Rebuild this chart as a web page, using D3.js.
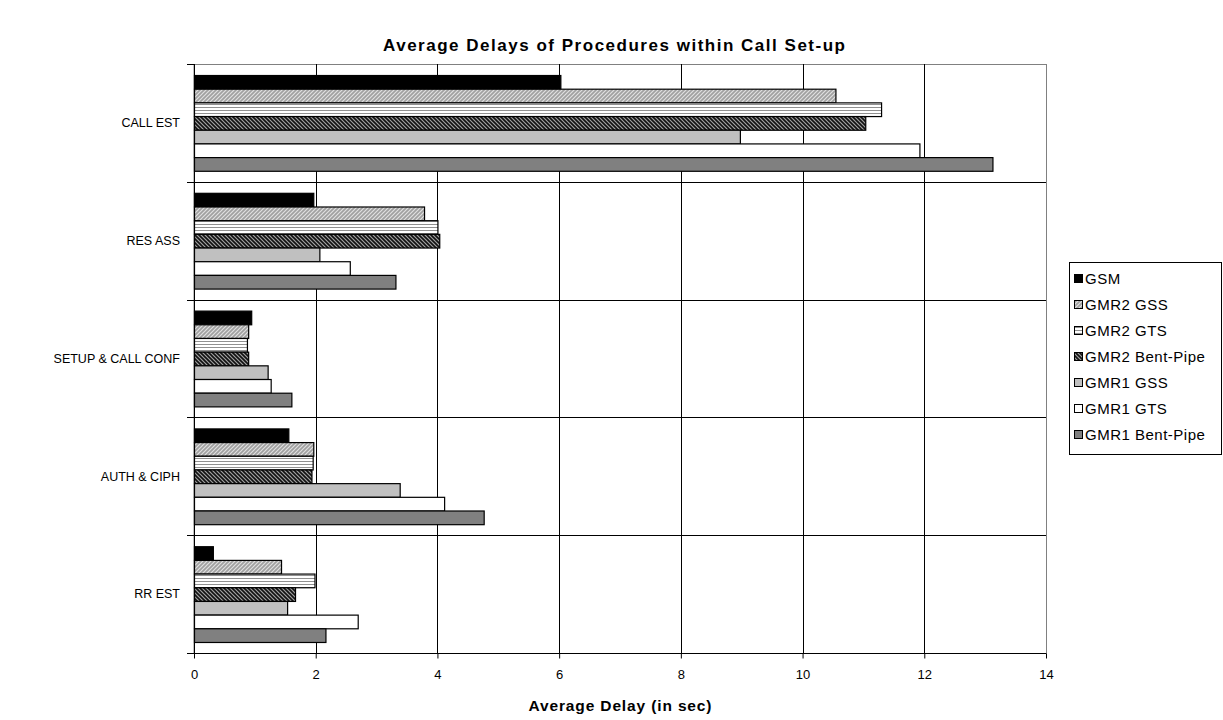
<!DOCTYPE html>
<html><head><meta charset="utf-8">
<script src="https://cdn.jsdelivr.net/npm/d3@7/dist/d3.min.js"></script>
<style>
body{margin:0;background:#fff;}
text{font-family:"Liberation Sans",Arial,sans-serif;}
</style></head>
<body><svg id="c" width="1223" height="720"></svg>
<script>
const categories = ["CALL EST","RES ASS","SETUP & CALL CONF","AUTH & CIPH","RR EST"];
const seriesNames = ["GSM","GMR2 GSS","GMR2 GTS","GMR2 Bent-Pipe","GMR1 GSS","GMR1 GTS","GMR1 Bent-Pipe"];
const gsm        = [6.02, 1.96, 0.94, 1.55, 0.31];
const gmr2Gss    = [10.54, 3.78, 0.89, 1.96, 1.43];
const gmr2Gts    = [11.29, 4.00, 0.87, 1.95, 1.98];
const gmr2Bent   = [11.03, 4.03, 0.89, 1.93, 1.66];
const gmr1Gss    = [8.97, 2.06, 1.21, 3.38, 1.53];
const gmr1Gts    = [11.92, 2.56, 1.26, 4.11, 2.69];
const gmr1Bent   = [13.12, 3.31, 1.60, 4.76, 2.16];
const xTicks = [0,2,4,6,8,10,12,14];
const seriesValues = [gsm, gmr2Gss, gmr2Gts, gmr2Bent, gmr1Gss, gmr1Gts, gmr1Bent];
const fills = ["#000","url(#pGss)","url(#pGts)","url(#pBent)","#c0c0c0","#fff","#808080"];

const svg = d3.select("#c");
const defs = svg.append("defs");
let p = defs.append("pattern").attr("id","pGss").attr("patternUnits","userSpaceOnUse").attr("width",4).attr("height",4);
p.append("rect").attr("width",4).attr("height",4).attr("fill","#a0a0a0");
p.append("path").attr("d","M-1,1 L1,-1 M0,4 L4,0 M3,5 L5,3").attr("stroke","#e0e0e0").attr("stroke-width",1.2);
p = defs.append("pattern").attr("id","pGts").attr("patternUnits","userSpaceOnUse").attr("width",4).attr("height",3);
p.append("rect").attr("width",4).attr("height",3).attr("fill","#fff");
p.append("rect").attr("y",2).attr("width",4).attr("height",1).attr("fill","#909090");
p = defs.append("pattern").attr("id","pBent").attr("patternUnits","userSpaceOnUse").attr("width",4).attr("height",4);
p.append("rect").attr("width",4).attr("height",4).attr("fill","#a0a0a0");
p.append("path").attr("d","M-1,3 L1,5 M0,0 L4,4 M3,-1 L5,1").attr("stroke","#111").attr("stroke-width",1.6);

const pLeft=194, pRight=1046, pTop=64, pBottom=653;
const x = d3.scaleLinear().domain([0,14]).range([pLeft,pRight]);
const y = d3.scaleBand().domain(categories).range([pTop,pBottom]).paddingInner(0.187).paddingOuter(0.0935);
const yb = d3.scaleBand().domain(seriesNames).range([0,y.bandwidth()]);
const step = (pBottom-pTop)/categories.length;

svg.append("rect").attr("x",pLeft).attr("y",pTop+0.5).attr("width",pRight-pLeft+0.5).attr("height",pBottom-pTop)
  .attr("fill","none").attr("stroke","#808080").attr("stroke-width",1);
svg.append("g").selectAll("line").data(xTicks.filter(d=>d>0&&d<14)).join("line")
  .attr("x1",d=>Math.round(x(d))+0.5).attr("x2",d=>Math.round(x(d))+0.5).attr("y1",pTop).attr("y2",pBottom)
  .attr("stroke","#000").attr("stroke-width",1);
const bounds = d3.range(1,categories.length).map(i=>pTop+i*step);
svg.append("g").selectAll("line").data(bounds).join("line")
  .attr("x1",pLeft).attr("x2",pRight).attr("y1",d=>Math.round(d)+0.5).attr("y2",d=>Math.round(d)+0.5)
  .attr("stroke","#000").attr("stroke-width",1);

const g = svg.append("g");
seriesNames.forEach((s,si)=>{
  g.append("g").selectAll("rect").data(seriesValues[si]).join("rect")
    .attr("x",x(0)+0.5)
    .attr("y",(d,i)=>y(categories[i])+yb(s)+0.5)
    .attr("width",d=>x(d)-x(0))
    .attr("height",yb.bandwidth())
    .attr("fill",fills[si]).attr("stroke","#000").attr("stroke-width",1.2);
});

const xa = svg.append("g").attr("transform",`translate(0,${pBottom+0.5})`)
  .call(d3.axisBottom(x).tickValues(xTicks).tickSize(5).tickSizeOuter(0));
xa.select(".domain").attr("stroke","#000").attr("d",`M${pLeft-7},0H${pRight}`);
xa.selectAll(".tick line").attr("stroke","#000");
xa.selectAll("text").attr("font-size",13).attr("dy","1.35em").attr("fill","#000")
  .attr("font-family","'Liberation Sans',Arial,sans-serif");
svg.append("line").attr("x1",pLeft+0.5).attr("x2",pLeft+0.5).attr("y1",pTop).attr("y2",pBottom).attr("stroke","#000");
svg.append("g").selectAll("line").data(d3.range(0,categories.length+1).map(i=>pTop+i*step)).join("line")
  .attr("x1",pLeft-7).attr("x2",pLeft).attr("y1",d=>Math.round(d)+0.5).attr("y2",d=>Math.round(d)+0.5).attr("stroke","#000");
svg.append("g").selectAll("text").data(categories).join("text")
  .attr("x",180).attr("y",d=>y(d)+y.bandwidth()/2).attr("dy","0.35em")
  .attr("text-anchor","end").attr("font-size",12.5).text(d=>d);

svg.append("text").attr("x",614).attr("y",51).attr("text-anchor","middle")
  .attr("font-size",17).attr("font-weight","bold")
  .attr("textLength",462).attr("lengthAdjust","spacing")
  .text("Average Delays of Procedures within Call Set-up");
svg.append("text").attr("x",620).attr("y",711).attr("text-anchor","middle")
  .attr("font-size",15.5).attr("font-weight","bold")
  .attr("textLength",183).attr("lengthAdjust","spacing")
  .text("Average Delay (in sec)");

const lg = svg.append("g").attr("transform","translate(1069,262)");
lg.append("rect").attr("x",0.5).attr("y",0.5).attr("width",152).attr("height",192).attr("fill","#fff").attr("stroke","#000");
seriesNames.forEach((s,i)=>{
  const yy = 17 + i*26;
  lg.append("rect").attr("x",5.5).attr("y",yy-4.5).attr("width",8).attr("height",8)
    .attr("fill",fills[i]).attr("stroke","#000");
  lg.append("text").attr("x",16).attr("y",yy).attr("dy","0.36em").attr("font-size",15)
    .attr("letter-spacing",0.5).text(s);
});
</script></body></html>
